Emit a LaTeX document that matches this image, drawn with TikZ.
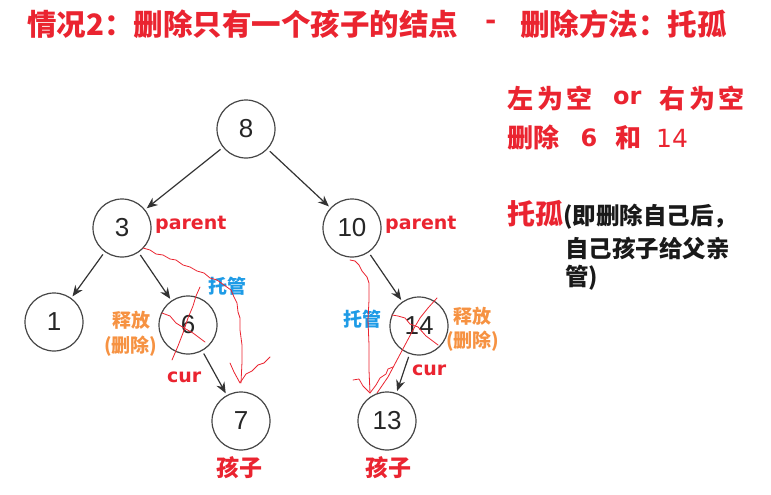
\documentclass[tikz,border=0pt]{standalone}
\usepackage{fontspec}
\setmainfont{DejaVu Sans}
\newfontfamily\cjk{Noto Sans CJK SC}
\newfontfamily\numfont{Liberation Sans}
\usetikzlibrary{arrows.meta}
\definecolor{tred}{RGB}{234,36,48}
\definecolor{tblue}{RGB}{30,155,230}
\definecolor{torange}{RGB}{246,146,66}
\definecolor{tgray}{RGB}{70,70,70}
\begin{document}
\begin{tikzpicture}[x=1pt,y=-1pt,
  tnode/.style={circle, draw=tgray, line width=1.2pt, minimum size=58pt, inner sep=0pt,
    font=\numfont\fontsize{26}{28}\selectfont, text=black!85},
  edgearrow/.style={-{Stealth[length=11pt,width=9pt]}, draw=black!80, line width=1.2pt,
    shorten >=2pt, shorten <=3pt},
  hand/.style={draw=tred, line width=0.8pt, line join=round, line cap=round},
  txt/.style={inner sep=0pt, anchor=west},
  title/.style={txt, text=tred, font=\cjk\bfseries\fontsize{29.5}{32}\selectfont},
  side/.style={txt, text=tred, font=\cjk\bfseries\fontsize{26}{28}\selectfont},
  sidewide/.style={txt, text=tred, font=\cjk\bfseries\fontsize{26}{28}\selectfont\addfontfeature{LetterSpace=15}},
  note/.style={txt, text=black!90, font=\cjk\bfseries\fontsize{23.5}{26}\selectfont},
  latin/.style={txt, text=tred, font=\bfseries\fontsize{19}{21}\selectfont},
  tuo/.style={txt, text=tblue, font=\cjk\bfseries\fontsize{19}{21}\selectfont},
  rel/.style={txt, text=torange, font=\cjk\bfseries\fontsize{19}{21}\selectfont},
  kid/.style={inner sep=0pt, text=tred, font=\cjk\bfseries\fontsize{23}{25}\selectfont}
]
\useasboundingbox (0,0) rectangle (771,495);

% title
\node[title] (t1) at (27,24) {情况2：删除只有一个孩子的结点};
\node[title, anchor=center] (t2) at (491,25) {-};
\node[title] (t3) at (520,24) {删除方法：托孤};

% right side text
\node[sidewide] (r1) at (507,98) {左为空};
\node[side, font=\bfseries\fontsize{24}{26}\selectfont] (r2) at (613,98) {or};
\node[sidewide] (r3) at (659,98) {右为空};
\node[side] (r4) at (507,138) {删除};
\node[side, anchor=center, font=\bfseries\fontsize{24}{26}\selectfont] (r5) at (589,138) {6};
\node[side] (r6) at (615,138) {和};
\node[side, font=\fontsize{25}{27}\selectfont] (r7) at (656,138) {14};
\node[side, font=\cjk\bfseries\fontsize{28}{30}\selectfont] (r8) at (507,214) {托孤};
\node[note] (r9) at (563,217) {(即删除自己后，};
\node[note] (r10) at (565,248) {自己孩子给父亲};
\node[note] (r11) at (565,278) {管)};

% tree nodes
\node[tnode] (n8) at (246,129) {8};
\node[tnode] (n3) at (122,228) {3};
\node[tnode] (n10) at (352,228) {10};
\node[tnode] (n1) at (54,322) {1};
\node[tnode] (n6) at (188,325) {6};
\node[tnode] (n14) at (419,326) {14};
\node[tnode] (n7) at (241,421) {7};
\node[tnode] (n13) at (387,421) {13};

\draw[edgearrow] (n8) -- (n3);
\draw[edgearrow] (n8) -- (n10);
\draw[edgearrow] (n3) -- (n1);
\draw[edgearrow] (n3) -- (n6);
\draw[edgearrow] (n6) -- (n7);
\draw[edgearrow] (n10) -- (n14);
\draw[edgearrow] (n14) -- (n13);

% labels
\node[latin] (p1) at (155,225) {parent};
\node[latin] (p2) at (385,225) {parent};
\node[latin] (c1) at (167,377) {cur};
\node[latin] (c2) at (412,370) {cur};
\node[tuo] (g1) at (208,286) {托管};
\node[tuo] (g2) at (343,319) {托管};
\node[rel] (s1) at (112,320) {释放};
\node[rel] (d1) at (104,346) {(删除)};
\node[rel] (s2) at (453,316) {释放};
\node[rel] (d2) at (446,341) {(删除)};
\node[kid] (k1) at (239,468) {孩子};
\node[kid] (k2) at (388,468) {孩子};

% hand-drawn red annotations
\draw[hand] (143,248) -- (150,250) -- (156,254) -- (163,255) -- (170,259) -- (176,260)
  -- (183,265) -- (190,267) -- (197,271) -- (204,273) -- (210,278) -- (217,280)
  -- (224,285) -- (231,290) -- (234,297) -- (237,303) -- (238,312) -- (240,318)
  -- (240,330) -- (242,345) -- (242,362) -- (241,383);
\draw[hand] (230,363) -- (234,372) -- (240,383) -- (246,374) -- (252,371) -- (258,365)
  -- (264,363) -- (270,357);
\draw[hand] (162,313) -- (170,316) -- (176,323) -- (184,328) -- (193,333) -- (205,342);
\draw[hand] (200,287) -- (196,296) -- (193,306) -- (188,318) -- (183,333) -- (178,346) -- (172,360);

\draw[hand] (350,260) -- (355,261) -- (359,265) -- (362,271) -- (367,277) -- (369,283)
  -- (369,300) -- (368,320) -- (369,345) -- (369,370) -- (370,393);
\draw[hand] (353,380) -- (359,379) -- (363,386) -- (370,393) -- (376,385) -- (380,378)
  -- (386,374) -- (388,369) -- (393,367);
\draw[hand] (392,315) -- (398,316) -- (405,318) -- (410,324) -- (418,327) -- (426,336)
  -- (438,345);
\draw[hand] (437,298) -- (428,308) -- (420,318) -- (413,330) -- (405,345) -- (397,360)
  -- (388,377) -- (377,393);
\end{tikzpicture}
\end{document}
